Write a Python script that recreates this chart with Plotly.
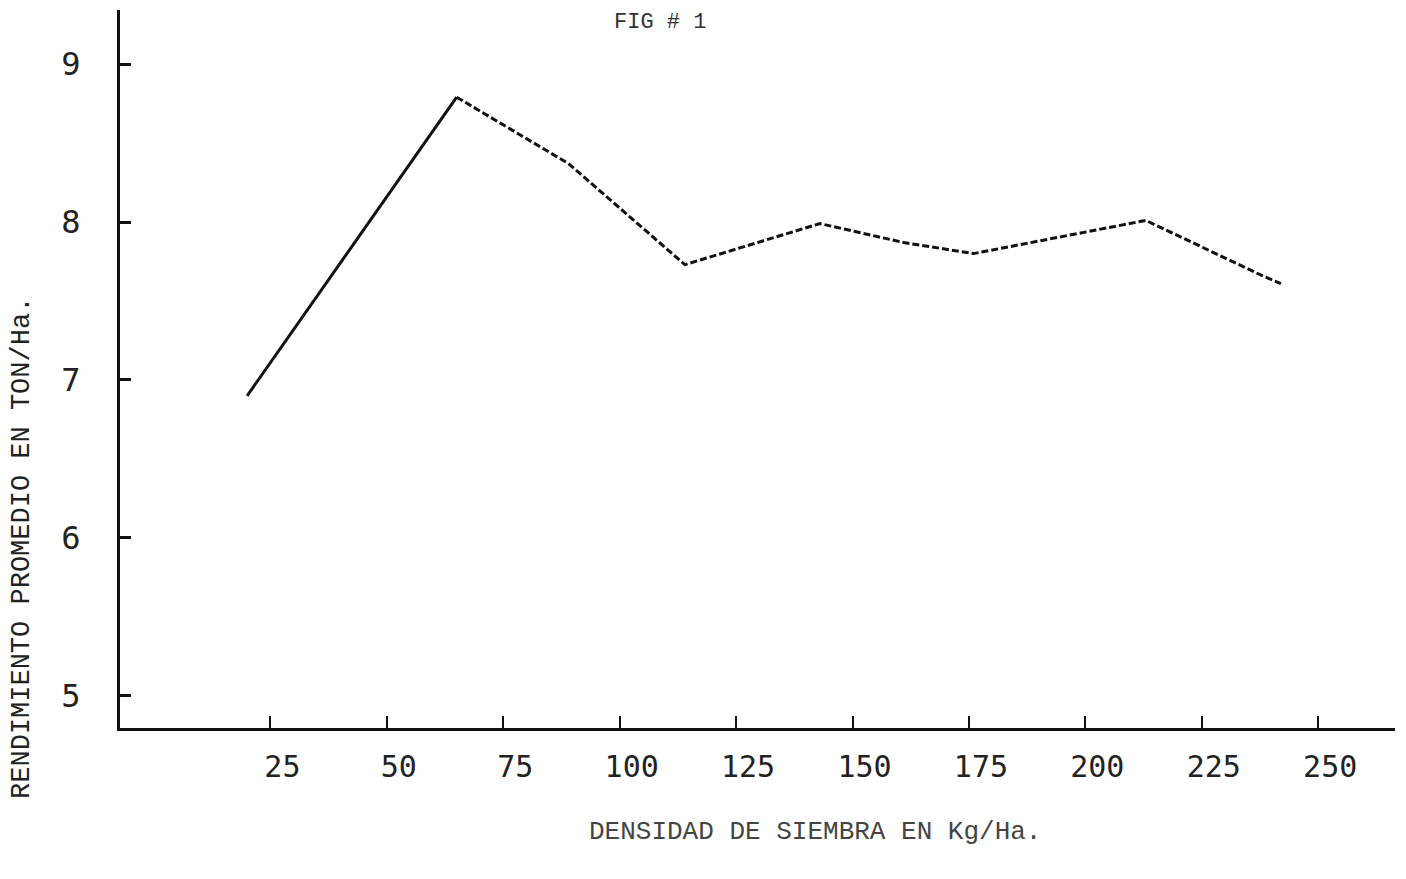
import plotly.graph_objects as go

# Data
densidad = [20, 65, 89, 114, 143, 161, 176, 213, 238, 242]
rendimiento = [6.90, 8.79, 8.37, 7.73, 7.99, 7.87, 7.80, 8.01, 7.66, 7.61]

x_ticks = [25, 50, 75, 100, 125, 150, 175, 200, 225, 250]
y_ticks = [5, 6, 7, 8, 9]

title_text = "FIG # 1"
x_title = "DENSIDAD DE SIEMBRA EN Kg/Ha."
y_title = "RENDIMIENTO PROMEDIO EN TON/Ha."

fig = go.Figure()
# first segment drawn solid, remainder appears broken in the scan
fig.add_trace(go.Scatter(x=densidad[:2], y=rendimiento[:2], mode="lines",
                         line=dict(color="#111", width=3), showlegend=False))
fig.add_trace(go.Scatter(x=densidad[1:], y=rendimiento[1:], mode="lines",
                         line=dict(color="#111", width=3, dash="7px,3px"),
                         showlegend=False))

fig.update_layout(
    width=1406, height=879,
    margin=dict(l=112, r=19, t=2, b=159, pad=0),
    paper_bgcolor="white", plot_bgcolor="white",
    xaxis=dict(range=[-7.3, 266.5], tickvals=x_ticks,
               ticktext=[str(v) for v in x_ticks], automargin=False,
               showgrid=False, zeroline=False,
               showline=True, linecolor="#111", linewidth=3,
               ticks="inside", ticklen=12, tickwidth=2, tickcolor="#111",
               ticklabelshift=12, ticklabelstandoff=10,
               tickfont=dict(family="DejaVu Sans Mono", size=30, color="#222")),
    yaxis=dict(range=[4.797, 9.342], tickvals=y_ticks,
               ticktext=[str(v) for v in y_ticks], automargin=False,
               showgrid=False, zeroline=False,
               showline=True, linecolor="#111", linewidth=3,
               ticks="inside", ticklen=11, tickwidth=3, tickcolor="#111",
               ticklabelstandoff=30,
               tickfont=dict(family="DejaVu Sans Mono", size=32, color="#222")),
    annotations=[
        dict(text=title_text, xref="paper", yref="paper", x=0.4235, y=1.0028,
             xanchor="center", yanchor="top", showarrow=False,
             font=dict(family="Liberation Mono", size=22, color="#333")),
        dict(text=x_title, xref="paper", yref="paper", x=0.545, y=-0.145,
             xanchor="center", yanchor="middle", showarrow=False,
             font=dict(family="Liberation Mono", size=26, color="#444")),
        dict(text=y_title, xref="paper", yref="paper", x=-0.0769, y=0.2507,
             xanchor="center", yanchor="middle", showarrow=False, textangle=-90,
             font=dict(family="Liberation Mono", size=27, color="#222")),
    ],
)

fig.write_html("out.html")
